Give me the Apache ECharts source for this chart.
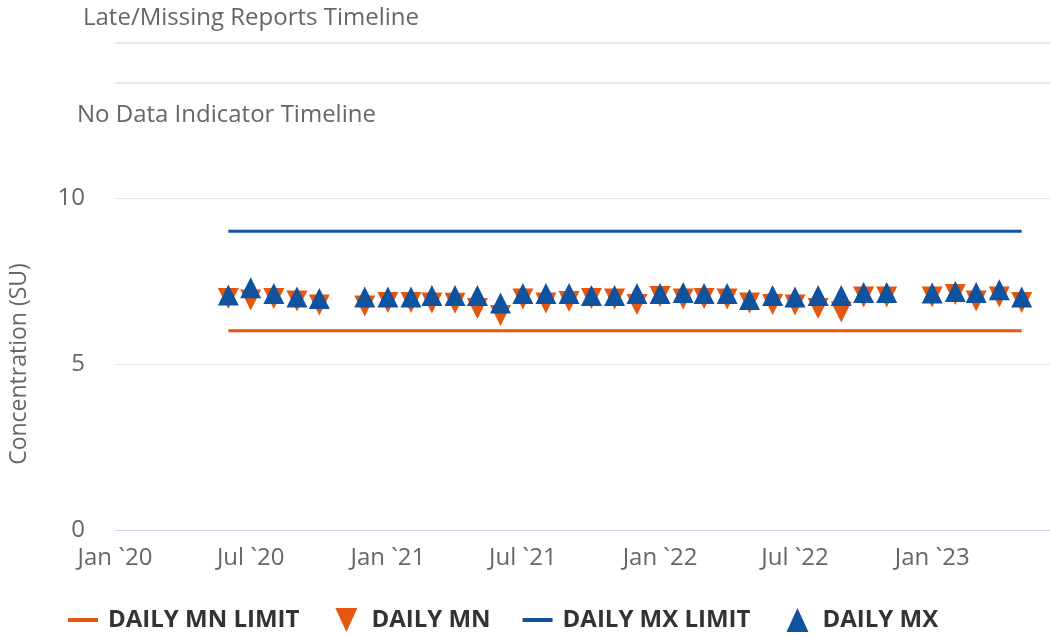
<!DOCTYPE html>
<html>
<head>
<meta charset="utf-8">
<script src="https://cdn.jsdelivr.net/npm/echarts@6/dist/echarts.min.js"></script>
<style>html,body{margin:0;padding:0;background:#fff}#c{width:1050px;height:636px}</style>
</head>
<body>
<div id="c"></div>
<script>
const months = ['2020-06','2020-07','2020-08','2020-09','2020-10','2020-11','2020-12',
  '2021-01','2021-02','2021-03','2021-04','2021-05','2021-06','2021-07','2021-08','2021-09','2021-10','2021-11','2021-12',
  '2022-01','2022-02','2022-03','2022-04','2022-05','2022-06','2022-07','2022-08','2022-09','2022-10','2022-11','2022-12',
  '2023-01','2023-02','2023-03','2023-04','2023-05'];
const dailyMn = [6.97,6.93,6.97,6.90,6.78,null,6.75,
  6.85,6.85,6.84,6.83,6.67,6.46,6.96,6.84,6.88,6.97,6.96,6.79,
  7.03,6.96,6.97,6.96,6.84,6.79,6.78,6.67,6.57,7.02,7.02,null,
  7.02,7.09,6.90,7.02,6.85];
const dailyMx = [7.08,7.30,7.12,7.02,6.97,null,7.02,
  7.02,7.02,7.06,7.06,7.06,6.84,7.12,7.12,7.12,7.06,7.06,7.12,
  7.12,7.15,7.12,7.12,6.94,7.06,7.02,7.06,7.06,7.15,7.15,null,
  7.14,7.18,7.15,7.24,7.02];
const mnLimit = [6,6,6,6,6,6,6, 6,6,6,6,6,6,6,6,6,6,6,6, 6,6,6,6,6,6,6,6,6,6,6,6, 6,6,6,6,6];
const mxLimit = [9,9,9,9,9,9,9, 9,9,9,9,9,9,9,9,9,9,9,9, 9,9,9,9,9,9,9,9,9,9,9,9, 9,9,9,9,9];
const yTicks = [0, 5, 10];
const monthNames = ['Jan','Feb','Mar','Apr','May','Jun','Jul','Aug','Sep','Oct','Nov','Dec'];

const ORANGE = '#e5560f';
const BLUE = '#0f539e';
const FONT = 'Open Sans';
const FS = 24;

const LINE_ICON = 'path://M0,0 L0,0 M0,10 L30,10 L30,14 L0,14 Z M30,24 L30,24';
const DOWN_ICON = 'path://M0,0 L0,0 M4,0 L26,0 L15,24 Z M30,24 L30,24';
const UP_ICON = 'path://M0,0 L0,0 M15,0 L26,24 L4,24 Z M30,24 L30,24';

function pairs(arr) { return months.map((m, i) => [m + '-01', arr[i]]); }

const chart = echarts.init(document.getElementById('c'));
chart.setOption({
  animation: false,
  textStyle: { fontFamily: FONT },
  title: [
    { text: 'Late/Missing Reports Timeline', left: 78, top: 1, textStyle: { fontFamily: FONT, fontSize: FS, fontWeight: 'normal', color: '#666' } },
    { text: 'No Data Indicator Timeline', left: 72, top: 98, textStyle: { fontFamily: FONT, fontSize: FS, fontWeight: 'normal', color: '#666' } }
  ],
  grid: [
    { left: 115, right: 0, top: 198, bottom: 106 },
    { left: 115, right: 0, top: 43, height: 40 }
  ],
  legend: {
    left: 63, top: 603, itemGap: 32, itemWidth: 30, itemHeight: 24,
    textStyle: { fontFamily: FONT, fontSize: FS, fontWeight: 'bold', color: '#333', padding: [0, 0, 0, 5] },
    data: [
      { name: 'DAILY MN LIMIT', icon: LINE_ICON },
      { name: 'DAILY MN', icon: DOWN_ICON },
      { name: 'DAILY MX LIMIT', icon: LINE_ICON },
      { name: 'DAILY MX', icon: UP_ICON }
    ]
  },
  xAxis: [
    {
      type: 'time', gridIndex: 0,
      min: '2020-01-01', max: '2023-06-08',
      minInterval: 181 * 86400000, maxInterval: 184 * 86400000,
      axisLine: { show: true, lineStyle: { color: '#ccd6eb', width: 1 } },
      axisTick: { show: false },
      splitLine: { show: false },
      axisLabel: {
        color: '#666', fontSize: FS, fontFamily: FONT, margin: 16, showMinLabel: true,
        formatter: function (v) {
          const d = new Date(v);
          return monthNames[d.getMonth()] + ' `' + String(d.getFullYear()).slice(2);
        }
      }
    },
    { type: 'value', gridIndex: 1, show: false, min: 0, max: 1 }
  ],
  yAxis: [
    {
      type: 'value', gridIndex: 0, min: yTicks[0], max: yTicks[yTicks.length - 1], interval: 5,
      name: 'Concentration (SU)', nameLocation: 'middle', nameGap: 84,
      nameTextStyle: { color: '#666', fontSize: 23, fontFamily: FONT },
      axisLine: { show: false }, axisTick: { show: false },
      axisLabel: { color: '#666', fontSize: FS, fontFamily: FONT, margin: 30 },
      splitLine: { lineStyle: { color: '#e6e6e6', width: 1 } }
    },
    {
      type: 'value', gridIndex: 1, min: 0, max: 1, interval: 1,
      axisLine: { show: false }, axisTick: { show: false }, axisLabel: { show: false },
      splitLine: { lineStyle: { color: '#e6e6e6', width: 2 } }
    }
  ],
  series: [
    {
      name: 'DAILY MN LIMIT', type: 'line', data: pairs(mnLimit), showSymbol: false,
      lineStyle: { color: ORANGE, width: 3 }, itemStyle: { color: ORANGE }, z: 2
    },
    {
      name: 'DAILY MN', type: 'scatter', data: pairs(dailyMn), symbol: 'triangle', symbolRotate: 180,
      symbolSize: 21, itemStyle: { color: ORANGE, opacity: 1 }, z: 3
    },
    {
      name: 'DAILY MX LIMIT', type: 'line', data: pairs(mxLimit), showSymbol: false,
      lineStyle: { color: BLUE, width: 3 }, itemStyle: { color: BLUE }, z: 2
    },
    {
      name: 'DAILY MX', type: 'scatter', data: pairs(dailyMx), symbol: 'triangle',
      symbolSize: 21, itemStyle: { color: BLUE, opacity: 1 }, z: 4
    }
  ]
});
</script>
</body>
</html>
